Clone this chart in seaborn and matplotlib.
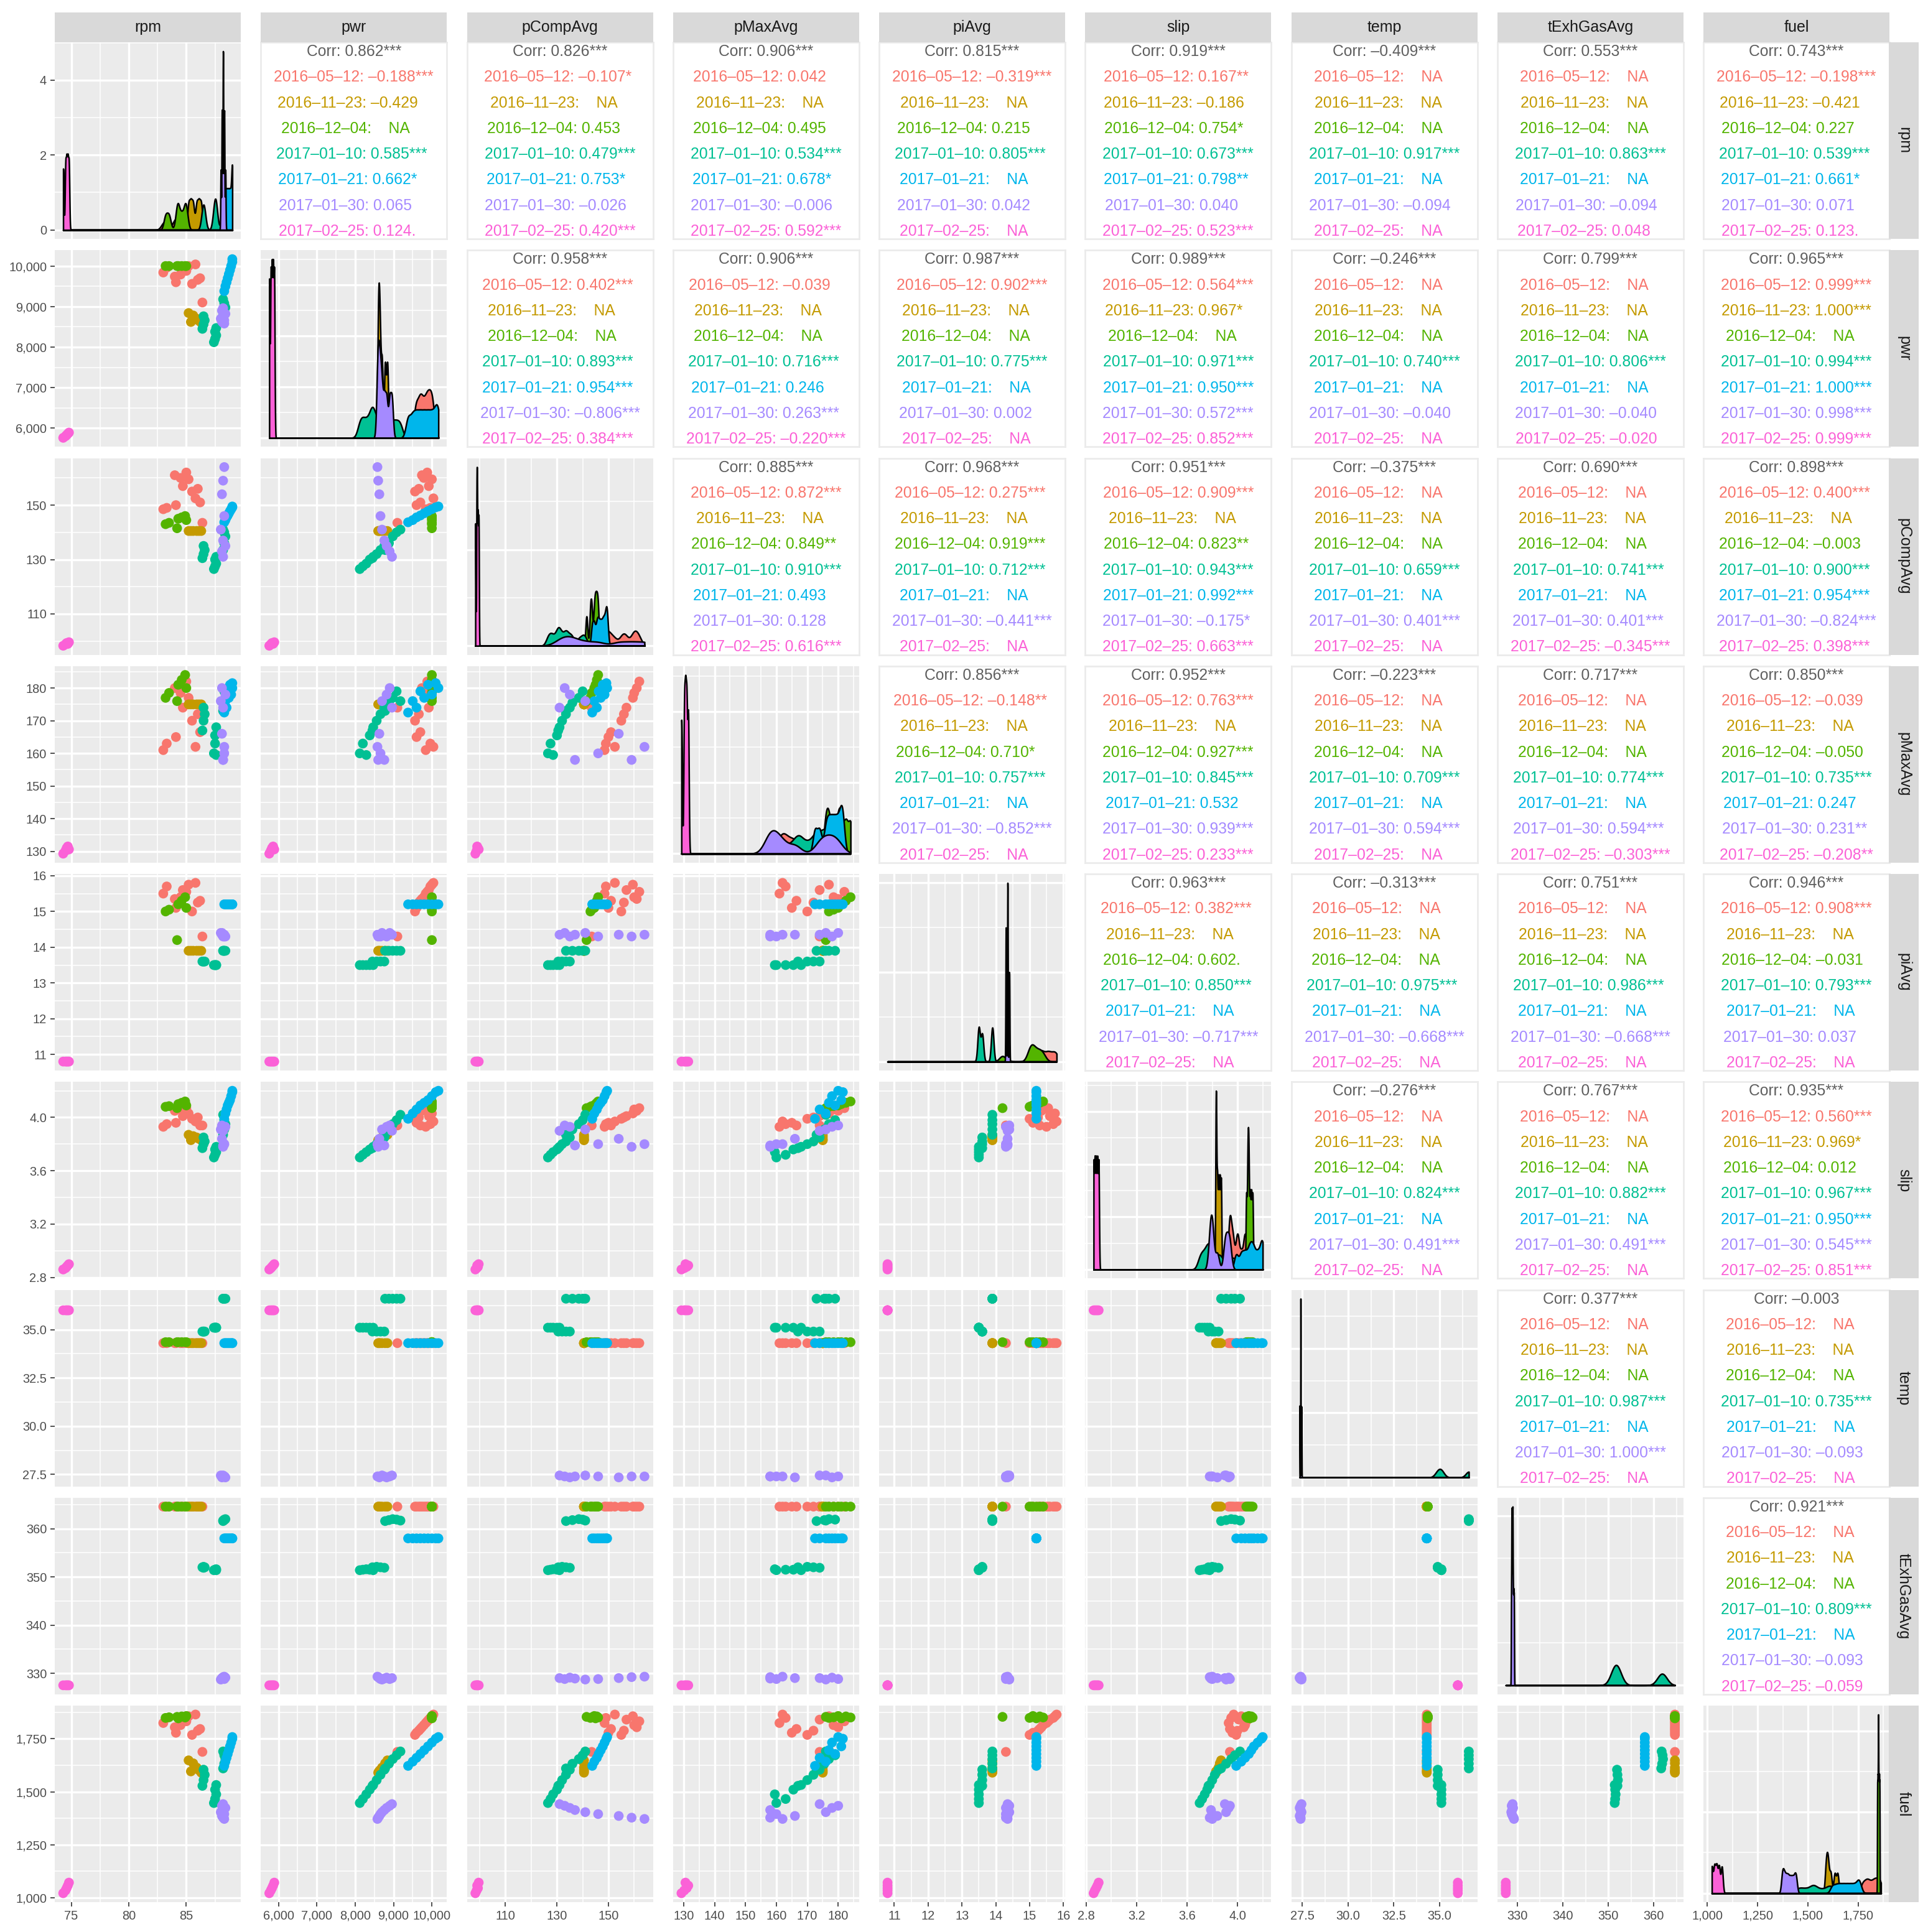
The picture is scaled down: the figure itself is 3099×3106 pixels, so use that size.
import re
import numpy as np
import pandas as pd
import matplotlib
matplotlib.use("Agg")
import matplotlib.pyplot as plt
from matplotlib.ticker import MultipleLocator, MaxNLocator, AutoMinorLocator, FuncFormatter
import seaborn as sns

plt.rcParams['font.family'] = ['Liberation Sans', 'DejaVu Sans']

variables = ["rpm", "pwr", "pCompAvg", "pMaxAvg", "piAvg", "slip", "temp", "tExhGasAvg", "fuel"]
dates = ["2016-05-12", "2016-11-23", "2016-12-04", "2017-01-10", "2017-01-21", "2017-01-30", "2017-02-25"]
colors = ["#F8766D", "#C49A00", "#53B400", "#00C094", "#00B6EB", "#A58AFF", "#FB61D7"]

# rows: rpm, pwr, pCompAvg, pMaxAvg, piAvg, slip, temp, tExhGasAvg, fuel
obs_2016_05_12 = [
    (83.0, 9840, 148.5, 161.0, 15.50, 3.93, 34.3, 364.6, 1824),
    (83.3, 9960, 149.0, 163.0, 15.70, 3.95, 34.3, 364.6, 1848),
    (84.1, 9600, 150.0, 165.0, 15.10, 3.96, 34.3, 364.6, 1778),
    (85.8, 10040, 152.5, 162.0, 15.80, 3.97, 34.3, 364.6, 1864),
    (86.2, 9700, 151.0, 166.5, 15.30, 3.94, 34.3, 364.6, 1796),
    (85.5, 9560, 155.0, 170.0, 15.00, 3.99, 34.3, 364.6, 1768),
    (84.7, 9920, 157.0, 174.0, 15.60, 4.01, 34.3, 364.6, 1840),
    (86.0, 9660, 156.0, 172.0, 15.25, 4.00, 34.3, 364.6, 1788),
    (85.2, 10000, 159.5, 177.0, 15.75, 4.03, 34.3, 364.6, 1856),
    (84.0, 9740, 161.0, 180.0, 15.35, 4.05, 34.3, 364.6, 1804),
    (85.0, 9880, 162.0, 182.0, 15.55, 4.07, 34.3, 364.6, 1832),
    (84.5, 9790, 160.0, 178.5, 15.40, 4.06, 34.3, 364.6, 1814),
    (86.4, 9100, 143.5, 174.0, 14.30, 3.94, 34.3, 364.6, 1688),
]
obs_2016_11_23 = [
    (85.2, 8840, 140.5, 175.0, 13.9, 3.87, 34.3, 364.6, 1648),
    (85.4, 8620, 140.5, 175.0, 13.9, 3.83, 34.3, 364.6, 1596),
    (85.6, 8780, 140.5, 175.0, 13.9, 3.86, 34.3, 364.6, 1634),
    (85.9, 8700, 140.5, 175.0, 13.9, 3.85, 34.3, 364.6, 1614),
    (86.1, 8650, 140.5, 175.0, 13.9, 3.84, 34.3, 364.6, 1602),
    (86.3, 8600, 140.5, 175.0, 13.9, 3.83, 34.3, 364.6, 1590),
]
obs_2016_12_04 = [
    (83.2, 10000, 143.0, 177.0, 15.00, 4.080, 34.35, 364.6, 1848),
    (83.5, 10000, 143.5, 178.5, 15.05, 4.085, 34.35, 364.6, 1851),
    (84.2, 10000, 141.5, 176.0, 14.20, 4.070, 34.35, 364.6, 1853),
    (84.3, 10000, 145.0, 181.0, 15.20, 4.100, 34.35, 364.6, 1846),
    (84.6, 10000, 145.5, 182.5, 15.30, 4.110, 34.35, 364.6, 1855),
    (84.9, 10000, 146.0, 184.0, 15.40, 4.120, 34.35, 364.6, 1850),
    (85.0, 10000, 144.5, 180.0, 15.10, 4.090, 34.35, 364.6, 1857),
]
obs_2017_01_10 = [
    (87.4, 8120, 126.5, 160.0, 13.5, 3.70, 35.1, 351.4, 1447),
    (87.5, 8200, 127.5, 163.0, 13.5, 3.72, 35.1, 351.5, 1466),
    (87.6, 8290, 128.5, 159.5, 13.5, 3.74, 35.1, 351.6, 1488),
    (87.5, 8380, 130.0, 165.5, 13.5, 3.76, 35.1, 351.5, 1510),
    (87.6, 8470, 131.0, 168.0, 13.5, 3.78, 35.1, 351.4, 1532),
    (86.4, 8450, 130.5, 167.0, 13.6, 3.77, 34.9, 352.0, 1528),
    (86.5, 8560, 132.0, 170.0, 13.6, 3.80, 34.9, 352.1, 1555),
    (86.6, 8660, 133.5, 172.0, 13.6, 3.82, 34.9, 352.0, 1580),
    (86.5, 8760, 135.0, 174.0, 13.6, 3.85, 34.9, 351.9, 1604),
    (88.2, 8780, 133.5, 173.0, 13.9, 3.87, 36.6, 361.6, 1610),
    (88.3, 8880, 136.0, 175.5, 13.9, 3.91, 36.6, 361.8, 1632),
    (88.4, 8980, 138.5, 177.0, 13.9, 3.95, 36.6, 362.0, 1654),
    (88.3, 9080, 140.0, 179.0, 13.9, 3.98, 36.6, 361.9, 1672),
    (88.2, 9180, 141.0, 176.0, 13.9, 4.02, 36.6, 361.7, 1690),
]
obs_2017_01_21 = [
    (88.3, 9380, 143.7, 172.5, 15.2, 3.99, 34.3, 358.0, 1622),
    (88.4, 9500, 144.5, 176.0, 15.2, 4.03, 34.3, 358.0, 1642),
    (88.5, 9600, 145.5, 174.0, 15.2, 4.06, 34.3, 358.0, 1660),
    (88.6, 9700, 146.2, 179.0, 15.2, 4.09, 34.3, 358.0, 1678),
    (88.7, 9800, 147.0, 177.0, 15.2, 4.11, 34.3, 358.0, 1696),
    (88.8, 9900, 147.8, 181.0, 15.2, 4.13, 34.3, 358.0, 1714),
    (88.9, 10000, 148.5, 178.0, 15.2, 4.16, 34.3, 358.0, 1732),
    (89.0, 10100, 149.2, 181.5, 15.2, 4.19, 34.3, 358.0, 1750),
    (89.0, 10170, 149.5, 180.0, 15.2, 4.20, 34.3, 358.0, 1758),
]
obs_2017_01_30 = [
    (88.3, 8580, 164.0, 162.0, 14.35, 3.80, 27.40, 329.3, 1372),
    (88.2, 8600, 159.0, 158.0, 14.30, 3.78, 27.40, 329.2, 1378),
    (88.1, 8630, 154.0, 166.0, 14.35, 3.84, 27.35, 329.0, 1386),
    (88.3, 8660, 146.0, 160.0, 14.30, 3.80, 27.40, 328.8, 1395),
    (88.0, 8700, 141.0, 176.0, 14.40, 3.91, 27.45, 328.7, 1404),
    (88.2, 8760, 137.0, 158.0, 14.35, 3.79, 27.40, 328.9, 1414),
    (88.4, 8820, 135.0, 178.0, 14.30, 3.93, 27.35, 329.1, 1424),
    (88.1, 8900, 133.0, 180.0, 14.40, 3.94, 27.40, 328.8, 1434),
    (88.2, 8960, 131.0, 174.0, 14.35, 3.90, 27.45, 329.0, 1442),
]
obs_2017_02_25 = [
    (74.3, 5760, 98.3, 129.3, 10.8, 2.86, 36.0, 327.5, 1022),
    (74.5, 5800, 98.8, 130.2, 10.8, 2.87, 36.0, 327.5, 1035),
    (74.6, 5830, 99.3, 131.0, 10.8, 2.88, 36.0, 327.5, 1046),
    (74.7, 5860, 99.0, 131.5, 10.8, 2.89, 36.0, 327.5, 1058),
    (74.8, 5890, 99.6, 130.6, 10.8, 2.90, 36.0, 327.5, 1072),
]

# correlation panel texts: overall, then one per date
corr_text = {
    ("rpm", "pwr"): ["0.862***", "-0.188***", "-0.429", "NA", "0.585***", "0.662*", "0.065", "0.124."],
    ("rpm", "pCompAvg"): ["0.826***", "-0.107*", "NA", "0.453", "0.479***", "0.753*", "-0.026", "0.420***"],
    ("rpm", "pMaxAvg"): ["0.906***", "0.042", "NA", "0.495", "0.534***", "0.678*", "-0.006", "0.592***"],
    ("rpm", "piAvg"): ["0.815***", "-0.319***", "NA", "0.215", "0.805***", "NA", "0.042", "NA"],
    ("rpm", "slip"): ["0.919***", "0.167**", "-0.186", "0.754*", "0.673***", "0.798**", "0.040", "0.523***"],
    ("rpm", "temp"): ["-0.409***", "NA", "NA", "NA", "0.917***", "NA", "-0.094", "NA"],
    ("rpm", "tExhGasAvg"): ["0.553***", "NA", "NA", "NA", "0.863***", "NA", "-0.094", "0.048"],
    ("rpm", "fuel"): ["0.743***", "-0.198***", "-0.421", "0.227", "0.539***", "0.661*", "0.071", "0.123."],
    ("pwr", "pCompAvg"): ["0.958***", "0.402***", "NA", "NA", "0.893***", "0.954***", "-0.806***", "0.384***"],
    ("pwr", "pMaxAvg"): ["0.906***", "-0.039", "NA", "NA", "0.716***", "0.246", "0.263***", "-0.220***"],
    ("pwr", "piAvg"): ["0.987***", "0.902***", "NA", "NA", "0.775***", "NA", "0.002", "NA"],
    ("pwr", "slip"): ["0.989***", "0.564***", "0.967*", "NA", "0.971***", "0.950***", "0.572***", "0.852***"],
    ("pwr", "temp"): ["-0.246***", "NA", "NA", "NA", "0.740***", "NA", "-0.040", "NA"],
    ("pwr", "tExhGasAvg"): ["0.799***", "NA", "NA", "NA", "0.806***", "NA", "-0.040", "-0.020"],
    ("pwr", "fuel"): ["0.965***", "0.999***", "1.000***", "NA", "0.994***", "1.000***", "0.998***", "0.999***"],
    ("pCompAvg", "pMaxAvg"): ["0.885***", "0.872***", "NA", "0.849**", "0.910***", "0.493", "0.128", "0.616***"],
    ("pCompAvg", "piAvg"): ["0.968***", "0.275***", "NA", "0.919***", "0.712***", "NA", "-0.441***", "NA"],
    ("pCompAvg", "slip"): ["0.951***", "0.909***", "NA", "0.823**", "0.943***", "0.992***", "-0.175*", "0.663***"],
    ("pCompAvg", "temp"): ["-0.375***", "NA", "NA", "NA", "0.659***", "NA", "0.401***", "NA"],
    ("pCompAvg", "tExhGasAvg"): ["0.690***", "NA", "NA", "NA", "0.741***", "NA", "0.401***", "-0.345***"],
    ("pCompAvg", "fuel"): ["0.898***", "0.400***", "NA", "-0.003", "0.900***", "0.954***", "-0.824***", "0.398***"],
    ("pMaxAvg", "piAvg"): ["0.856***", "-0.148**", "NA", "0.710*", "0.757***", "NA", "-0.852***", "NA"],
    ("pMaxAvg", "slip"): ["0.952***", "0.763***", "NA", "0.927***", "0.845***", "0.532", "0.939***", "0.233***"],
    ("pMaxAvg", "temp"): ["-0.223***", "NA", "NA", "NA", "0.709***", "NA", "0.594***", "NA"],
    ("pMaxAvg", "tExhGasAvg"): ["0.717***", "NA", "NA", "NA", "0.774***", "NA", "0.594***", "-0.303***"],
    ("pMaxAvg", "fuel"): ["0.850***", "-0.039", "NA", "-0.050", "0.735***", "0.247", "0.231**", "-0.208**"],
    ("piAvg", "slip"): ["0.963***", "0.382***", "NA", "0.602.", "0.850***", "NA", "-0.717***", "NA"],
    ("piAvg", "temp"): ["-0.313***", "NA", "NA", "NA", "0.975***", "NA", "-0.668***", "NA"],
    ("piAvg", "tExhGasAvg"): ["0.751***", "NA", "NA", "NA", "0.986***", "NA", "-0.668***", "NA"],
    ("piAvg", "fuel"): ["0.946***", "0.908***", "NA", "-0.031", "0.793***", "NA", "0.037", "NA"],
    ("slip", "temp"): ["-0.276***", "NA", "NA", "NA", "0.824***", "NA", "0.491***", "NA"],
    ("slip", "tExhGasAvg"): ["0.767***", "NA", "NA", "NA", "0.882***", "NA", "0.491***", "NA"],
    ("slip", "fuel"): ["0.935***", "0.560***", "0.969*", "0.012", "0.967***", "0.950***", "0.545***", "0.851***"],
    ("temp", "tExhGasAvg"): ["0.377***", "NA", "NA", "NA", "0.987***", "NA", "1.000***", "NA"],
    ("temp", "fuel"): ["-0.003", "NA", "NA", "NA", "0.735***", "NA", "-0.093", "NA"],
    ("tExhGasAvg", "fuel"): ["0.921***", "NA", "NA", "NA", "0.809***", "NA", "-0.093", "-0.059"],
}

# axis breaks per variable: (major step, offset, minor step, label format)
breaks = {
    "rpm": (5, 0, 2.5, "{:.0f}"),
    "pwr": (1000, 0, 500, "{:,.0f}"),
    "pCompAvg": (20, 10, 10, "{:.0f}"),
    "pMaxAvg": (10, 0, 5, "{:.0f}"),
    "piAvg": (1, 0, 0.5, "{:.0f}"),
    "slip": (0.4, 0, 0.2, "{:.1f}"),
    "temp": (2.5, 0, 1.25, "{:.1f}"),
    "tExhGasAvg": (10, 0, 5, "{:.0f}"),
    "fuel": (250, 0, 125, "{:,.0f}"),
}

frames = []
for d, rows in zip(dates, [obs_2016_05_12, obs_2016_11_23, obs_2016_12_04, obs_2017_01_10,
                           obs_2017_01_21, obs_2017_01_30, obs_2017_02_25]):
    f = pd.DataFrame(rows, columns=variables)
    f["date"] = d
    frames.append(f)
df = pd.concat(frames, ignore_index=True)
palette = dict(zip(dates, colors))

lims = {}
for v in variables:
    lo, hi = df[v].min(), df[v].max()
    lims[v] = (lo - 0.05 * (hi - lo), hi + 0.05 * (hi - lo))

W, H, DPI = 3099, 3106, 200
fig = plt.figure(figsize=(W / DPI, H / DPI), dpi=DPI)


def add_px(x0, y0, w, h):
    return fig.add_axes([x0 / W, 1 - (y0 + h) / H, w / W, h / H])


PX0, PY0, PW, PH, DX, DY = 88, 68, 299, 316, 331.25, 334.25
n = len(variables)
TICK = dict(labelsize=7.2, labelcolor="#4D4D4D", color="#333333", length=2.6, width=0.6, pad=2)


def set_breaks(axis, v):
    step, off, minor, fmt = breaks[v]
    axis.set_major_locator(MultipleLocator(step, off))
    axis.set_minor_locator(MultipleLocator(minor))
    axis.set_major_formatter(FuncFormatter(lambda x, p, f=fmt: f.format(x)))


def base_style(ax):
    ax.set_facecolor("#EBEBEB")
    for s in ax.spines.values():
        s.set_visible(False)
    ax.set_axisbelow(True)
    ax.grid(which="major", color="white", linewidth=1.2)
    ax.grid(which="minor", color="white", linewidth=0.55)
    ax.set_xlabel("")
    ax.set_ylabel("")


def cell_lines(vals):
    parts = [re.match(r"^(-?\d\.\d{3}|NA)(.*)$", v).groups() for v in vals[1:]]
    labels = []
    for d, (num, stars) in zip(dates, parts):
        if num == "NA":
            num = "   NA"
        labels.append(f"{d}: {num}{stars}")
    L = max(len(s) for s in labels)
    labels = [s.ljust(L) for s in labels]
    return ["Corr: " + vals[0]] + labels


for i, vy in enumerate(variables):
    for j, vx in enumerate(variables):
        ax = add_px(PX0 + j * DX, PY0 + i * DY, PW, PH)
        if i < j:
            ax.set_facecolor("white")
            for s in ax.spines.values():
                s.set_color("#EBEBEB")
                s.set_linewidth(1.0)
            ax.set_xticks([])
            ax.set_yticks([])
            lines = cell_lines(corr_text[(vy, vx)])
            tcols = ["#5F5F5F"] + colors
            for k, (txt, c) in enumerate(zip(lines, tcols)):
                ax.text(0.5, 0.952 - k * (0.914 / 7), txt.replace("-", "\u2013"),
                        transform=ax.transAxes, ha="center", va="center",
                        fontsize=8.9, color=c)
            continue
        if i == j:
            lo, hi = df[vx].min(), df[vx].max()
            for d in dates:
                sub = df.loc[df["date"] == d, vx]
                if sub.max() - sub.min() < 1e-9:
                    continue
                sns.kdeplot(x=sub.values, ax=ax, fill=True, color=palette[d], alpha=1,
                            edgecolor="black", linewidth=0.9, bw_adjust=0.35, cut=1e4,
                            clip=(lo, hi), gridsize=1500, warn_singular=False)
            base_style(ax)
            ax.set_xlim(lims[vx])
            top = ax.get_ylim()[1] / 1.05
            ax.set_ylim(-0.05 * top, 1.05 * top)
            set_breaks(ax.xaxis, vx)
            ax.yaxis.set_major_locator(MaxNLocator(4, steps=[1, 2, 5, 10]))
            ax.yaxis.set_minor_locator(AutoMinorLocator(2))
            ax.yaxis.set_major_formatter(FuncFormatter(lambda x, p: f"{x:g}"))
        else:
            sns.scatterplot(data=df, x=vx, y=vy, hue="date", hue_order=dates, palette=palette,
                            s=32, linewidth=0, legend=False, ax=ax)
            base_style(ax)
            ax.set_xlim(lims[vx])
            ax.set_ylim(lims[vy])
            set_breaks(ax.xaxis, vx)
            set_breaks(ax.yaxis, vy)
        ax.tick_params(which="both", **TICK)
        ax.tick_params(which="minor", length=0)
        show_x = i == n - 1
        show_y = j == 0
        ax.tick_params(axis="x", which="major", labelbottom=show_x, length=2.6 if show_x else 0)
        ax.tick_params(axis="y", which="major", labelleft=show_y, length=2.6 if show_y else 0)

# facet strips
for j, v in enumerate(variables):
    sax = add_px(PX0 + j * DX, 20, PW, 48)
    sax.set_facecolor("#D9D9D9")
    sax.set_xticks([]); sax.set_yticks([])
    for s in sax.spines.values():
        s.set_visible(False)
    sax.text(0.5, 0.5, v, ha="center", va="center", fontsize=9, color="#1A1A1A",
             transform=sax.transAxes)
for i, v in enumerate(variables):
    sax = add_px(3036, PY0 + i * DY, 48, PH)
    sax.set_facecolor("#D9D9D9")
    sax.set_xticks([]); sax.set_yticks([])
    for s in sax.spines.values():
        s.set_visible(False)
    sax.text(0.5, 0.5, v, ha="center", va="center", fontsize=9, color="#1A1A1A",
             rotation=-90, transform=sax.transAxes)

fig.savefig("out.png", dpi=DPI, facecolor="white")
